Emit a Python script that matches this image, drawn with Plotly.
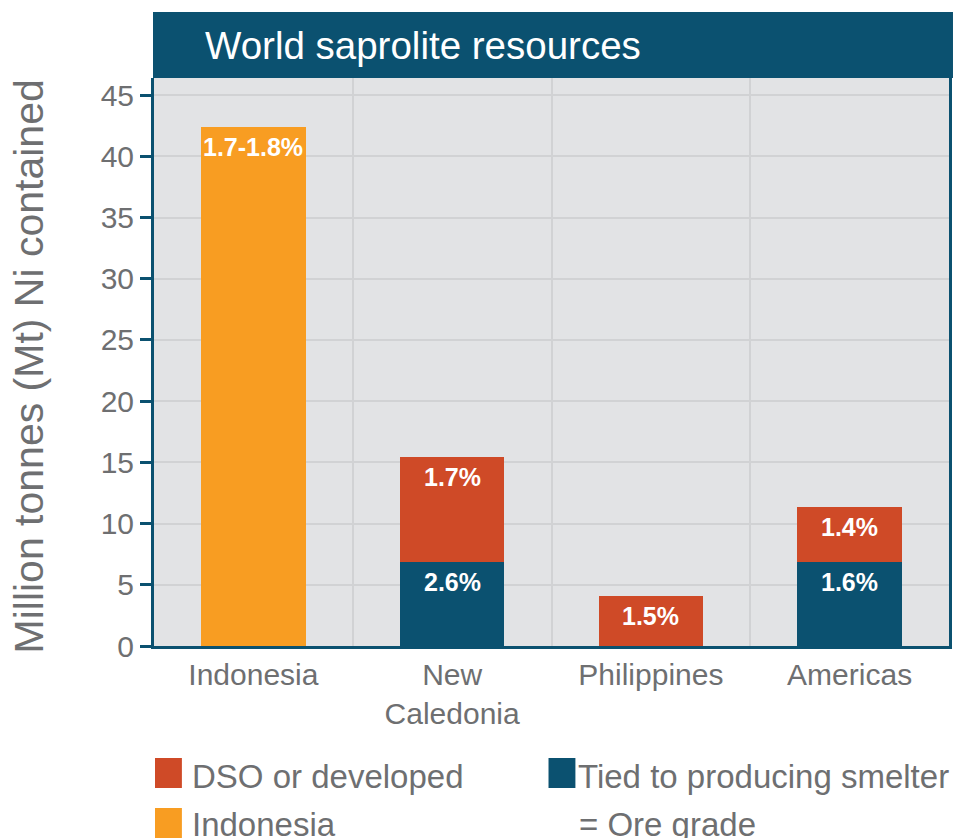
import plotly.graph_objects as go

# ---------------- data ----------------
categories = ["Indonesia", "New<br>Caledonia", "Philippines", "Americas"]
tied_vals = [None, 6.85, None, 6.85]
dso_vals = [None, 8.55, 4.1, 4.5]
indonesia_vals = [42.4, None, None, None]
tied_labels = ["", "2.6%", "", "1.6%"]
dso_labels = ["", "1.7%", "1.5%", "1.4%"]
indonesia_labels = ["1.7-1.8%", "", "", ""]
y_ticks = [0, 5, 10, 15, 20, 25, 30, 35, 40, 45]
series_names = ["DSO or developed", "Tied to producing smelter", "Indonesia"]

# ---------------- style ----------------
FONT = "Liberation Sans, Arial, Helvetica, sans-serif"
TEAL = "#0b5170"
RED = "#cf4a27"
ORANGE = "#f89d22"
GRAY_TXT = "#6e6f71"
BG = "#e2e3e5"
GRID = "#d1d2d4"

W, H = 964, 838
ML, MR, MT, MB = 154, 12, 78, 192
PW = W - ML - MR
PH = H - MT - MB


def px_x(px):
    return (px - ML) / PW


def px_y(py):
    return (H - MB - py) / PH


fig = go.Figure()
fig.add_trace(go.Bar(x=categories, y=tied_vals, name=series_names[1],
                     marker=dict(color=TEAL, line=dict(width=0))))
fig.add_trace(go.Bar(x=categories, y=dso_vals, name=series_names[0],
                     marker=dict(color=RED, line=dict(width=0))))
fig.add_trace(go.Bar(x=categories, y=indonesia_vals, name=series_names[2],
                     marker=dict(color=ORANGE, line=dict(width=0))))

annotations = []
# bar value labels placed at the top of each segment
for i, cat in enumerate(categories):
    base = 0.0
    for vals, labels in ((tied_vals, tied_labels), (dso_vals, dso_labels),
                         (indonesia_vals, indonesia_labels)):
        v = vals[i]
        if v is None:
            continue
        top = base + v
        if labels[i]:
            annotations.append(dict(
                x=cat, y=top, xref="x", yref="y", text="<b>%s</b>" % labels[i],
                showarrow=False, yanchor="top", xanchor="center", yshift=-4,
                font=dict(family=FONT, size=25, color="white")))
        base = top

# title text
annotations.append(dict(
    x=px_x(203), y=px_y(45), xref="paper", yref="paper",
    text="World saprolite resources", showarrow=False,
    xanchor="left", yanchor="middle",
    font=dict(family=FONT, size=38.5, color="white")))

# y-axis title
annotations.append(dict(
    x=px_x(29), y=px_y(366), xref="paper", yref="paper",
    text="Million tonnes (Mt) Ni contained", showarrow=False, textangle=-90,
    xanchor="center", yanchor="middle",
    font=dict(family=FONT, size=41, color=GRAY_TXT)))

shapes = [
    # title bar
    dict(type="rect", xref="paper", yref="paper",
         x0=px_x(153), x1=px_x(956), y0=1.0, y1=px_y(12),
         fillcolor=TEAL, line=dict(width=0), layer="above"),
]

# custom legend
legend_items = [
    (series_names[0], RED, 155, 758, 190, 776),
    (series_names[2], ORANGE, 155, 808, 190, 824),
    (series_names[1], TEAL, 550, 758, 578, 776),
]
for name, color, sx, sy, tx, ty in legend_items:
    shapes.append(dict(type="rect", xref="paper", yref="paper",
                       x0=px_x(sx), x1=px_x(sx + 27), y0=px_y(sy + 30), y1=px_y(sy),
                       fillcolor=color, line=dict(width=0)))
    annotations.append(dict(
        x=px_x(tx), y=px_y(ty), xref="paper", yref="paper", text=name,
        showarrow=False, xanchor="left", yanchor="middle",
        font=dict(family=FONT, size=33, color=GRAY_TXT)))
annotations.append(dict(
    x=px_x(579), y=px_y(824), xref="paper", yref="paper", text="= Ore grade",
    showarrow=False, xanchor="left", yanchor="middle",
    font=dict(family=FONT, size=33, color=GRAY_TXT)))

fig.update_layout(
    width=W, height=H, autosize=False,
    margin=dict(l=ML, r=MR, t=MT, b=MB, pad=0),
    paper_bgcolor="white", plot_bgcolor=BG,
    barmode="stack", bargap=0.475, showlegend=False,
    font=dict(family=FONT, color=GRAY_TXT),
    annotations=annotations, shapes=shapes,
    xaxis=dict(
        type="category", tickson="boundaries", showgrid=True,
        gridcolor=GRID, gridwidth=2, ticks="", showline=True,
        linecolor=TEAL, linewidth=3,
        tickfont=dict(family=FONT, size=30, color=GRAY_TXT),
        fixedrange=True),
    yaxis=dict(
        range=[0, 46.4], tickvals=y_ticks, showgrid=True, gridcolor=GRID,
        gridwidth=2, zeroline=False, showline=True, mirror=True,
        linecolor=TEAL, linewidth=3, ticks="outside", ticklen=11,
        tickwidth=3, tickcolor=TEAL, ticklabelstandoff=0,
        tickfont=dict(family=FONT, size=30, color=GRAY_TXT),
        fixedrange=True),
)

fig.write_html("out.html")
